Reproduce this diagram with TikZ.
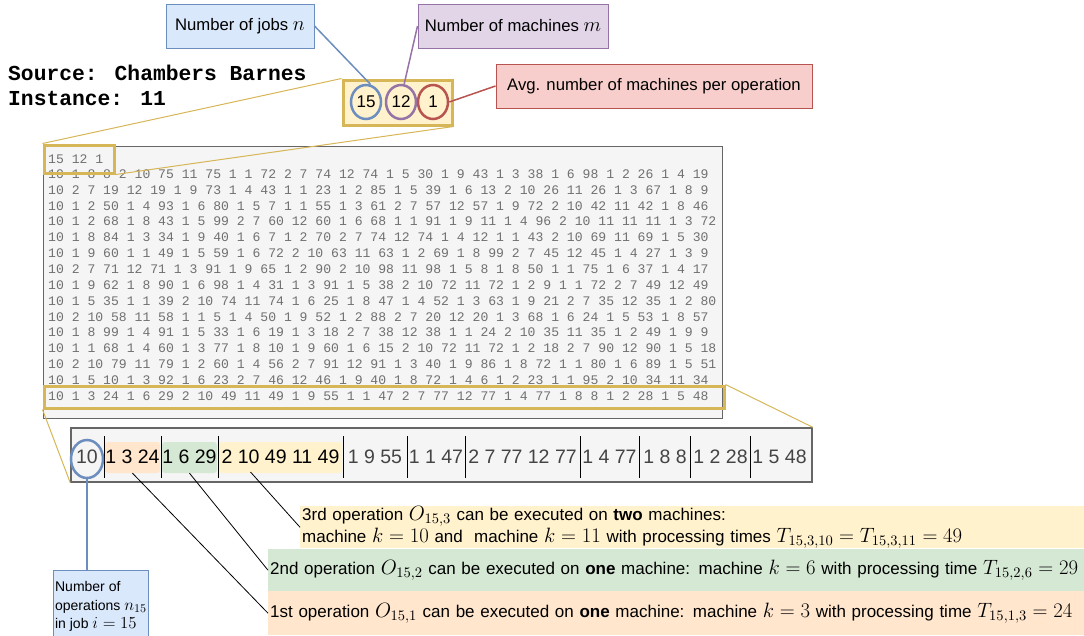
\RequirePackage{fix-cm}
\documentclass[tikz,border=0pt]{standalone}
\usepackage{fontspec}
\setmainfont{Liberation Sans}
\newfontfamily\datamono{Liberation Mono}
\usetikzlibrary{shapes.geometric}
\newcommand{\mth}[1]{\scalebox{1.22}{$#1$}}
\newcommand{\mths}[1]{\scalebox{1.2}{$#1$}}
\definecolor{bfill}{HTML}{DAE8FC}
\definecolor{bline}{HTML}{6C8EBF}
\definecolor{pfill}{HTML}{E1D5E7}
\definecolor{pline}{HTML}{9673A6}
\definecolor{rfill}{HTML}{F8CECC}
\definecolor{rline}{HTML}{B85450}
\definecolor{yfill}{HTML}{FFF2CC}
\definecolor{yline}{HTML}{D6B656}
\definecolor{gfill}{HTML}{D5E8D4}
\definecolor{ofill}{HTML}{FFE6CC}
\definecolor{panelfill}{HTML}{F5F5F5}
\definecolor{panelline}{HTML}{666666}
\definecolor{datagray}{HTML}{707070}
\definecolor{seggray}{HTML}{444444}
\begin{document}
\begin{tikzpicture}[x=1pt,y=-1pt,
  labelbox/.style={draw, line width=1pt, inner sep=0pt, font=\fontsize{16.7}{20}\selectfont},
  numcirc/.style={ellipse, draw, line width=2.5pt, fill=yfill, inner sep=0pt,
    minimum width=30pt, minimum height=34pt, font=\fontsize{17}{20}\selectfont},
  datarow/.style={anchor=west, inner sep=0pt, text=datagray, font=\datamono\fontsize{13.1}{15}\selectfont},
  hlbox/.style={draw=yline, line width=3pt, inner sep=0pt},
  zoomline/.style={yline, line width=1pt},
  seg/.style={inner sep=0pt, font=\fontsize{19.5}{22}\selectfont},
  seghl/.style={rounded corners=3pt, inner sep=0pt, minimum height=31pt},
  sepline/.style={black, line width=1pt},
  annot/.style={inner xsep=2pt, inner ysep=0pt, anchor=north west, align=left,
    font=\fontsize{17}{22}\selectfont},
  pointer/.style={black, line width=0.8pt},
  title/.style={anchor=west, inner sep=0pt, font=\datamono\bfseries\fontsize{21.3}{24}\selectfont},
]
\useasboundingbox (0,0) rectangle (1084,635);

% title
\node[title] (src) at (8,73) {Source: Chambers Barnes};
\node[title] (inst) at (8,99) {Instance: 11};

% top label boxes
\node[labelbox, fill=bfill, draw=bline, minimum width=148pt, minimum height=44pt] (jobs) at (240,26) {Number of jobs \mth{n}};
\node[labelbox, fill=pfill, draw=pline, minimum width=190pt, minimum height=44pt] (machs) at (513,26) {Number of machines \mth{m}};
\node[labelbox, fill=rfill, draw=rline, minimum width=316pt, minimum height=44pt] (avg) at (654,86) {Avg. number of machines per operation};

% header box with circles
\node[draw=yline, fill=yfill, line width=3pt, minimum width=109pt, minimum height=45pt, inner sep=0pt] (hdr) at (397.5,102.5) {};
\node[numcirc, draw=bline] (c15) at (366,102) {15};
\node[numcirc, draw=pline] (c12) at (401,102) {12};
\node[numcirc, draw=rline] (c1) at (433,102) {1};

\draw[bline, line width=1.5pt] (jobs.east) -- (c15.75);
\draw[pline, line width=1.5pt] (machs.west) -- (c12.80);
\draw[rline, line width=1.5pt] (avg.west) -- (c1.east);

% data panel
\node[fill=panelfill, draw=panelline, line width=1pt, minimum width=679pt, minimum height=272pt, inner sep=0pt] (panel) at (382.5,282) {};
\node[datarow] (r0) at (48,159) {15 12 1};
\node[datarow] (r1) at (48,174.0) {10 1 8 8 2 10 75 11 75 1 1 72 2 7 74 12 74 1 5 30 1 9 43 1 3 38 1 6 98 1 2 26 1 4 19};
\node[datarow] (r2) at (48,189.9) {10 2 7 19 12 19 1 9 73 1 4 43 1 1 23 1 2 85 1 5 39 1 6 13 2 10 26 11 26 1 3 67 1 8 9};
\node[datarow] (r3) at (48,205.7) {10 1 2 50 1 4 93 1 6 80 1 5 7 1 1 55 1 3 61 2 7 57 12 57 1 9 72 2 10 42 11 42 1 8 46};
\node[datarow] (r4) at (48,221.6) {10 1 2 68 1 8 43 1 5 99 2 7 60 12 60 1 6 68 1 1 91 1 9 11 1 4 96 2 10 11 11 11 1 3 72};
\node[datarow] (r5) at (48,237.4) {10 1 8 84 1 3 34 1 9 40 1 6 7 1 2 70 2 7 74 12 74 1 4 12 1 1 43 2 10 69 11 69 1 5 30};
\node[datarow] (r6) at (48,253.3) {10 1 9 60 1 1 49 1 5 59 1 6 72 2 10 63 11 63 1 2 69 1 8 99 2 7 45 12 45 1 4 27 1 3 9};
\node[datarow] (r7) at (48,269.1) {10 2 7 71 12 71 1 3 91 1 9 65 1 2 90 2 10 98 11 98 1 5 8 1 8 50 1 1 75 1 6 37 1 4 17};
\node[datarow] (r8) at (48,285.0) {10 1 9 62 1 8 90 1 6 98 1 4 31 1 3 91 1 5 38 2 10 72 11 72 1 2 9 1 1 72 2 7 49 12 49};
\node[datarow] (r9) at (48,300.9) {10 1 5 35 1 1 39 2 10 74 11 74 1 6 25 1 8 47 1 4 52 1 3 63 1 9 21 2 7 35 12 35 1 2 80};
\node[datarow] (r10) at (48,316.7) {10 2 10 58 11 58 1 1 5 1 4 50 1 9 52 1 2 88 2 7 20 12 20 1 3 68 1 6 24 1 5 53 1 8 57};
\node[datarow] (r11) at (48,332.6) {10 1 8 99 1 4 91 1 5 33 1 6 19 1 3 18 2 7 38 12 38 1 1 24 2 10 35 11 35 1 2 49 1 9 9};
\node[datarow] (r12) at (48,348.4) {10 1 1 68 1 4 60 1 3 77 1 8 10 1 9 60 1 6 15 2 10 72 11 72 1 2 18 2 7 90 12 90 1 5 18};
\node[datarow] (r13) at (48,364.3) {10 2 10 79 11 79 1 2 60 1 4 56 2 7 91 12 91 1 3 40 1 9 86 1 8 72 1 1 80 1 6 89 1 5 51};
\node[datarow] (r14) at (48,380.1) {10 1 5 10 1 3 92 1 6 23 2 7 46 12 46 1 9 40 1 8 72 1 4 6 1 2 23 1 1 95 2 10 34 11 34};
\node[datarow] (r15) at (48,396.0) {10 1 3 24 1 6 29 2 10 49 11 49 1 9 55 1 1 47 2 7 77 12 77 1 4 77 1 8 8 1 2 28 1 5 48};

% highlight boxes in panel
\node[hlbox, minimum width=70pt, minimum height=28pt] (hsmall) at (79,159) {};
\node[hlbox, minimum width=680pt, minimum height=22pt] (hrow) at (384,397) {};

% bottom strip
\node[fill=panelfill, draw=panelline, line width=1.5pt, minimum width=741pt, minimum height=54pt, inner sep=0pt] (strip) at (441.5,455) {};

% zoom lines
\draw[zoomline] (hsmall.north west) -- (hdr.north west);
\draw[zoomline] (hsmall.south east) -- (hdr.south east);
\draw[zoomline] (hrow.south west) -- (strip.south west);
\draw[zoomline] (hrow.north east) -- (strip.north east);

% segment highlights
\node[seghl, fill=ofill, minimum width=55pt] (h1) at (132.5,457.5) {};
\node[seghl, fill=gfill, minimum width=55pt] (h2) at (189.5,457.5) {};
\node[seghl, fill=yfill, minimum width=123pt] (h3) at (280.5,457.5) {};

% segment texts
\node[seg, text=seggray] (s0) at (87,457) {10};
\node[seg] (s1) at (132.5,457) {1 3 24};
\node[seg] (s2) at (189.5,457) {1 6 29};
\node[seg] (s3) at (280.5,457) {2 10 49 11 49};
\node[seg, text=seggray] (s4) at (375,457) {1 9 55};
\node[seg, text=seggray] (s5) at (436,457) {1 1 47};
\node[seg, text=seggray] (s6) at (522.5,457) {2 7 77 12 77};
\node[seg, text=seggray] (s7) at (609.5,457) {1 4 77};
\node[seg, text=seggray] (s8) at (665,457) {1 8 8};
\node[seg, text=seggray] (s9) at (720.5,457) {1 2 28};
\node[seg, text=seggray] (s10) at (779.5,457) {1 5 48};

% separators
\foreach \xx in {104,161,218,343,407,465,580,639,690,750}
  \draw[sepline] (\xx,436) -- (\xx,478);

% circle around 10
\node[ellipse, draw=bline, line width=2.5pt, minimum width=32pt, minimum height=38pt, inner sep=0pt] (c10) at (87,459) {};

% ops box
\node[draw=bline, fill=bfill, line width=1pt, anchor=north west, minimum width=95pt, minimum height=72pt,
  inner xsep=1pt, inner ysep=2pt, align=left, font=\fontsize{14}{18.5}\selectfont] (ops) at (53,570)
  {Number of\\operations \mths{n_{15}}\\in job \mths{i=15}};
\draw[bline, line width=1.5pt] (c10.south) -- (c10.south |- ops.north);

% annotations
\node[annot, fill=yfill, minimum width=784pt, minimum height=42pt, text width=780pt] (a3) at (300,506)
  {3rd operation \mth{O_{15,3}} can be executed on \textbf{two} machines:\\
   machine \mth{k=10} and~ machine \mth{k=11} with processing times \mth{T_{15,3,10}=T_{15,3,11}=49}};
\node[annot, fill=gfill, minimum width=816pt, minimum height=42pt, text width=812pt] (a2) at (268,549)
  {2nd operation \mth{O_{15,2}} can be executed on \textbf{one} machine: machine \mth{k=6} with processing time \mth{T_{15,2,6}=29}};
\node[annot, fill=ofill, minimum width=816pt, minimum height=44pt, text width=812pt] (a1) at (268,591)
  {1st operation \mth{O_{15,1}} can be executed on \textbf{one} machine: machine \mth{k=3} with processing time \mth{T_{15,1,3}=24}};

% pointers
\draw[pointer] (h1.south) -- (a1.west);
\draw[pointer] (h2.south) -- (a2.west);
\draw[pointer] (250.5,472) -- (a3.west);
\end{tikzpicture}
\end{document}
